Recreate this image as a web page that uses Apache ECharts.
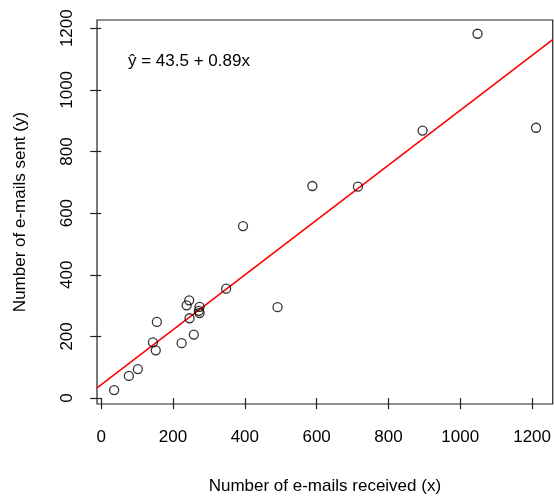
<!DOCTYPE html>
<html>
<head>
<meta charset="utf-8">
<script src="https://cdn.jsdelivr.net/npm/echarts@6/dist/echarts.min.js"></script>
<style>
  html, body { margin: 0; padding: 0; background: #fff; }
  #chart { width: 554px; height: 500px; }
</style>
</head>
<body>
<div id="chart"></div>
<script>
// E-mails received (x) vs. e-mails sent (y), one point per person
const received = [36, 77, 102, 144, 152, 155, 224, 238, 245, 246, 258, 274, 272, 274, 348, 395, 491, 588, 715, 895, 1048, 1211];
const sent     = [26, 72,  94, 181, 155, 247, 178, 301, 317, 259, 206, 296, 283, 276, 355, 558, 295, 688, 686, 868, 1182, 877];

// Fitted least-squares line: y-hat = intercept + slope * x
const intercept = 43.5;
const slope = 0.89;

// Tick positions and axis extents
const xTicks = [0, 200, 400, 600, 800, 1000, 1200];
const yTicks = [0, 200, 400, 600, 800, 1000, 1200];
const xRange = [-11.7, 1257.5];
const yRange = [-19.2, 1226.6];

const FONT = '"Liberation Sans", Arial, Helvetica, sans-serif';
const plain = v => String(Math.round(v));

const points = received.map((x, i) => [x, sent[i]]);
const fitLine = xRange.map(x => [x, intercept + slope * x]);

const chart = echarts.init(document.getElementById('chart'), null, { renderer: 'canvas' });
chart.setOption({
  animation: false,
  backgroundColor: '#fff',
  grid: {
    left: 97, right: 1, top: 20, bottom: 91,
    show: true, borderColor: '#222', borderWidth: 1.2, backgroundColor: 'transparent'
  },
  xAxis: {
    type: 'value',
    min: xRange[0], max: xRange[1],
    name: 'Number of e-mails received (x)',
    nameLocation: 'middle',
    nameGap: 74,
    nameTextStyle: { fontFamily: FONT, fontSize: 17, color: '#000' },
    axisLine: { show: false },
    splitLine: { show: false },
    axisTick: { show: true, customValues: xTicks, length: 11, lineStyle: { color: '#222', width: 1.2 } },
    axisLabel: { customValues: xTicks, formatter: plain, fontFamily: FONT, fontSize: 17, color: '#000', margin: 25 }
  },
  yAxis: {
    type: 'value',
    min: yRange[0], max: yRange[1],
    name: 'Number of e-mails sent (y)',
    nameLocation: 'middle',
    nameGap: 68,
    nameRotate: 90,
    nameTextStyle: { fontFamily: FONT, fontSize: 17, color: '#000' },
    axisLine: { show: false },
    splitLine: { show: false },
    axisTick: { show: true, customValues: yTicks, length: 11, lineStyle: { color: '#222', width: 1.2 } },
    axisLabel: { customValues: yTicks, formatter: plain, rotate: 90, fontFamily: FONT, fontSize: 17, color: '#000', margin: 21 }
  },
  graphic: [{
    type: 'text',
    left: 128, top: 53,
    silent: true,
    style: { text: 'ŷ = 43.5 + 0.89x', font: '17px ' + FONT, fill: '#000' }
  }],
  series: [
    {
      type: 'line',
      data: fitLine,
      showSymbol: false,
      silent: true,
      clip: true,
      lineStyle: { color: '#ff0000', width: 1.6 },
      z: 2
    },
    {
      type: 'scatter',
      data: points,
      symbol: 'circle',
      symbolSize: 9,
      silent: true,
      itemStyle: { color: 'rgba(0,0,0,0)', borderColor: '#000', borderWidth: 1.3 },
      z: 3
    }
  ]
});
</script>
</body>
</html>
